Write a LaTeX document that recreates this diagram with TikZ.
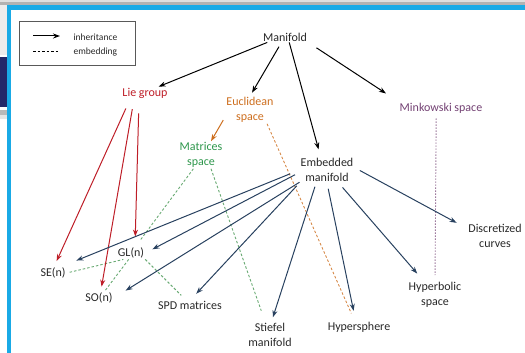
\documentclass[tikz,border=0pt]{standalone}
\usepackage{fontspec}
\setmainfont{Carlito}
\usetikzlibrary{arrows.meta}
\definecolor{txtgray}{RGB}{40,40,40}
\definecolor{liered}{RGB}{190,30,40}
\definecolor{euclorange}{RGB}{205,110,30}
\definecolor{matgreen}{RGB}{45,150,75}
\definecolor{embgreen}{RGB}{105,170,115}
\definecolor{minkpurple}{RGB}{115,65,115}
\definecolor{embblue}{RGB}{40,65,95}
\definecolor{framecyan}{RGB}{25,170,230}
\definecolor{navy}{RGB}{35,40,105}
\begin{document}
\begin{tikzpicture}[x=1pt,y=-1pt,
  lbl/.style={font=\fontsize{12}{15}\selectfont, align=center, inner sep=1pt, text=txtgray},
  inh/.style={-{Stealth[length=7pt,width=5pt]}, line width=1pt},
  emb/.style={dash pattern=on 2.5pt off 2pt, line width=0.9pt}]
\useasboundingbox (0,0) rectangle (525,353);
% slide frame
\fill[gray!25] (0,0) rectangle (525,2);
\fill[gray!60] (0,2) rectangle (525,5);
\fill[framecyan] (7,5) rectangle (525,10);
\fill[framecyan] (7,5) rectangle (11,353);
\fill[gray!15] (0,5) rectangle (7,55);
\fill[navy] (0,57) rectangle (7,107);
\fill[gray!55] (0,110) rectangle (7,115);
\fill[gray!20] (0,115) rectangle (7,119);
% legend
\node (legend) at (77,43) [draw=gray!70!black, thick, minimum width=116pt, minimum height=44pt] {};
\coordinate (inhA) at (33,36);
\coordinate (inhB) at (60,36);
\draw[inh, black] (inhA) -- (inhB);
\node (inhtext) at (70,37) [anchor=west, font=\fontsize{9.5}{10}\selectfont, text=txtgray] {inheritance};
\coordinate (embA) at (33,51);
\coordinate (embB) at (58,51);
\draw[emb, black] (embA) -- (embB);
\node (embtext) at (70,52) [anchor=west, font=\fontsize{9.5}{10}\selectfont, text=txtgray] {embedding};
% spaces
\node (manifold) at (285,37) [lbl] {Manifold};
\node (lie) at (145,93) [lbl, text=liered] {Lie group};
\node (euclid) at (250,110) [lbl, text=euclorange] {Euclidean\\space};
\node (minkowski) at (441,108) [lbl, text=minkpurple] {Minkowski space};
\node (matrices) at (201,155) [lbl, text=matgreen] {Matrices\\space};
\node (embedded) at (327,170) [lbl] {Embedded\\manifold};
\node (discretized) at (495,236) [lbl] {Discretized\\curves};
\node (hyperbolic) at (435,295) [lbl] {Hyperbolic\\space};
\node (hypersphere) at (359,327) [lbl] {Hypersphere};
\node (stiefel) at (270,335) [lbl] {Stiefel\\manifold};
\node (se) at (53,273) [lbl] {SE(n)};
\node (gl) at (131,253) [lbl] {GL(n)};
\node (so) at (99,298) [lbl] {SO(n)};
\node (spd) at (190,305) [lbl] {SPD matrices};
% embeddings
\draw[emb, embgreen] (matrices.241) -- (gl.55) [shorten >=8pt];
\draw[emb, embgreen] (matrices.306) -- (stiefel.110) [shorten >=12pt];
\draw[emb, embgreen] (se.east) -- (gl.220) [shorten <=3pt];
\draw[emb, embgreen] (gl.250) -- (so.50);
\draw[emb, embgreen] (gl.south east) -- (spd.130) [shorten >=6pt];
\draw[emb, euclorange!80] (euclid.321) -- (hypersphere.125) [shorten >=8pt];
\draw[dash pattern=on 1.5pt off 1.5pt, line width=0.9pt, minkpurple!70] (minkowski.233) -- (hyperbolic.north) [shorten <=4pt, shorten >=6pt];
% inheritance from manifold
\draw[inh, black] (manifold.197) -- (lie.25);
\draw[inh, black] (manifold.237) -- (euclid.north) [shorten <=5pt, shorten >=4pt];
\draw[inh, black] (manifold.308) -- (embedded.116) [shorten >=8pt];
\draw[inh, black] (manifold.347) -- (minkowski.north west) [shorten <=10pt, shorten >=15pt];
\draw[inh, euclorange] (euclid.195) -- (matrices.54) [shorten <=4pt];
% inheritance from lie group
\draw[inh, liered] ([xshift=-15pt]lie.south) -- (se.80) [shorten <=10pt, shorten >=6pt];
\draw[inh, liered] ([xshift=-11pt]lie.south) -- (so.75) [shorten <=10pt, shorten >=5pt];
\draw[inh, liered] ([xshift=-6pt]lie.south) -- ([xshift=4pt]gl.north) [shorten <=14pt, shorten >=10pt];
% inheritance from embedded manifold
\draw[inh, embblue] (embedded.west) -- (se.37) [shorten <=10pt, shorten >=16pt];
\draw[inh, embblue] (embedded.185) -- (gl.east) [shorten <=5pt, shorten >=8pt];
\draw[inh, embblue] (embedded.204) -- (so.east) [shorten >=14pt];
\draw[inh, embblue] (embedded.south west) -- (spd.82) [shorten <=4pt, shorten >=8pt];
\draw[inh, embblue] (embedded.230) -- (stiefel.84) [shorten <=4pt, shorten >=5pt];
\draw[inh, embblue] (embedded.south) -- (hypersphere.118) [shorten <=6pt, shorten >=10pt];
\draw[inh, embblue] (embedded.312) -- (hyperbolic.129) [shorten <=6pt, shorten >=10pt];
\draw[inh, embblue] (embedded.5) -- (discretized.165) [shorten <=6pt, shorten >=12pt];
\end{tikzpicture}
\end{document}
